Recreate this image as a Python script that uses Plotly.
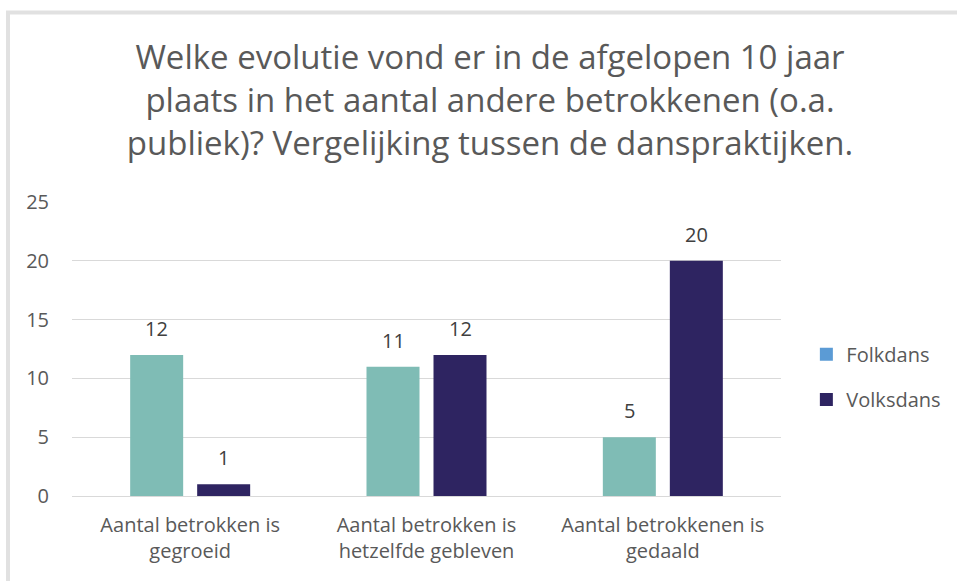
import plotly.graph_objects as go

categories = ["Aantal betrokken is<br>gegroeid", "Aantal betrokken is<br>hetzelfde gebleven", "Aantal betrokkenen is<br>gedaald"]
folkdans = [12, 11, 5]
volksdans = [1, 12, 20]
series_names = ["Folkdans", "Volksdans"]
y_ticks = [0, 5, 10, 15, 20, 25]

title = ("Welke evolutie vond er in de afgelopen 10 jaar<br>"
         "plaats in het aantal andere betrokkenen (o.a.<br>"
         "publiek)? Vergelijking tussen de danspraktijken.")

FONT = "Open Sans"
GRAY = "#595959"
BAR_COLORS = ["#7FBCB5", "#2E2461"]
LEGEND_COLORS = ["#5B9BD5", "#2E2461"]
GROUP_SHIFT = 33.5  # px offset of each bar from the category centre

fig = go.Figure()
for name, vals, col in zip(series_names, [folkdans, volksdans], BAR_COLORS):
    fig.add_trace(go.Bar(x=categories, y=vals, name=name, marker_color=col,
                         marker_line_width=0, showlegend=False))
# legend entries (legend swatch colours differ from bars in the original)
for i, (name, col) in enumerate(zip(series_names, LEGEND_COLORS)):
    fig.add_trace(go.Scatter(x=[None], y=[None], mode="markers", name=name,
                             marker=dict(symbol="square", size=13, color=col),
                             legend="legend" if i == 0 else "legend2"))

annotations = []
for vals, shift in [(folkdans, -GROUP_SHIFT), (volksdans, GROUP_SHIFT)]:
    for c, v in zip(categories, vals):
        annotations.append(dict(x=c, y=v, xref="x", yref="y", text=str(v), showarrow=False,
                                xanchor="center", yanchor="bottom", xshift=shift, yshift=11,
                                font=dict(size=20, color="#404040", family=FONT)))

fig.update_layout(
    width=957, height=581,
    margin=dict(l=72, r=176, t=202, b=85, autoexpand=False),
    paper_bgcolor="white", plot_bgcolor="white",
    font=dict(family=FONT, color=GRAY),
    title=dict(text=title, x=0.512, xanchor="center", y=0.881, yanchor="top",
               font=dict(size=33, color=GRAY, family=FONT)),
    barmode="group", bargap=0.433, bargroupgap=0.209,
    legend=dict(xref="container", x=0.8426, y=0.482, xanchor="left", yanchor="middle",
                font=dict(size=20, color=GRAY), bgcolor="rgba(0,0,0,0)", itemwidth=30),
    legend2=dict(xref="container", x=0.8426, y=0.328, xanchor="left", yanchor="middle",
                 font=dict(size=20, color=GRAY), bgcolor="rgba(0,0,0,0)", itemwidth=30),
    annotations=annotations,
    shapes=[dict(type="rect", xref="paper", yref="paper",
                 x0=-0.0903, x1=1.5, y0=-0.5, y1=1.6446,
                 line=dict(color="#E1E1E1", width=4), fillcolor="rgba(0,0,0,0)", layer="below")],
)
fig.update_yaxes(range=[0, 25], tickvals=y_ticks, showgrid=True, gridcolor="#D9D9D9", gridwidth=1,
                 zeroline=False, showline=False, ticklabelstandoff=22,
                 tickfont=dict(size=20, color=GRAY, family=FONT))
fig.update_xaxes(showline=True, linecolor="#D9D9D9", linewidth=1, ticks="",
                 tickfont=dict(size=20, color=GRAY, family=FONT), ticklabelstandoff=11)

fig.write_html("out.html", config={"displayModeBar": False},
               post_script="document.body.style.margin='0';")
